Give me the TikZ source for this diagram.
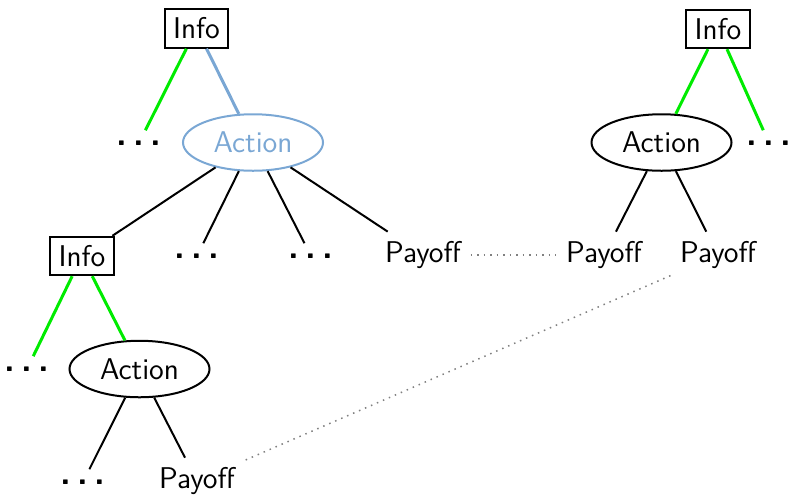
\documentclass[tikz,border=0pt]{standalone}
\usetikzlibrary{shapes.geometric}
\definecolor{actblue}{RGB}{122,167,212}
\definecolor{infogreen}{RGB}{0,235,0}
\newcommand{\moredots}{\kern-1.1pt.\kern2.6pt.\kern2.6pt.\kern-1.1pt}
\tikzset{
  infobox/.style={draw, line width=0.8pt, rectangle, inner sep=3.4pt, font=\fontsize{12}{14}\sffamily},
  actnode/.style={draw, line width=0.8pt, ellipse, minimum width=56pt, minimum height=22.6pt, inner sep=0pt, font=\fontsize{12}{14}\sffamily},
  leaf/.style={inner sep=3.7pt, font=\fontsize{12}{14}\sffamily},
  more/.style={inner xsep=0.5pt, inner ysep=4pt, font=\fontsize{14}{16}\sffamily\bfseries},
  branch/.style={line width=0.8pt},
  infoedge/.style={line width=1.2pt, infogreen},
  link/.style={gray, dotted, line width=0.6pt}
}
\begin{document}
\begin{tikzpicture}[x=0.4pt, y=-0.4pt]
\useasboundingbox (0,0) rectangle (790,494);

% left tree
\node[infobox] (info1) at (196.5,28.5) {Info};
\node[more] (dots1) at (139,143) {\moredots};
\node[actnode, actblue] (act1) at (253,142.5) {Action};
\node[infobox] (info2) at (82,256) {Info};
\node[more] (dots2) at (197,256) {\moredots};
\node[more] (dots3) at (311,256) {\moredots};
\node[leaf] (pay1) at (423,255) {Payoff};
\node[more] (dots4) at (27,369) {\moredots};
\node[actnode] (act2) at (139.5,369) {Action};
\node[more] (dots5) at (83,482) {\moredots};
\node[leaf] (pay2) at (197,481) {Payoff};

% right tree
\node[infobox] (info3) at (718,29) {Info};
\node[actnode] (act3) at (661.5,142.5) {Action};
\node[more] (dots6) at (769,143) {\moredots};
\node[leaf] (pay3) at (604,255) {Payoff};
\node[leaf] (pay4) at (718,255) {Payoff};

% information edges
\draw[infoedge] (info1) -- (dots1);
\draw[line width=1.2pt, actblue] (info1) -- (act1);
\draw[infoedge] (info2) -- (dots4);
\draw[infoedge] (info2) -- (act2);
\draw[infoedge] (info3) -- (act3);
\draw[infoedge] (info3) -- (dots6);

% action branches
\draw[branch] (act1) -- (info2);
\draw[branch] (act1) -- (dots2);
\draw[branch] (act1) -- (dots3);
\draw[branch] (act1) -- (pay1);
\draw[branch] (act2) -- (dots5);
\draw[branch] (act2) -- (pay2);
\draw[branch] (act3) -- (pay3);
\draw[branch] (act3) -- (pay4);

% payoff links
\draw[link] (pay1) -- (pay3);
\draw[link] (pay4) -- (pay2);
\end{tikzpicture}
\end{document}
